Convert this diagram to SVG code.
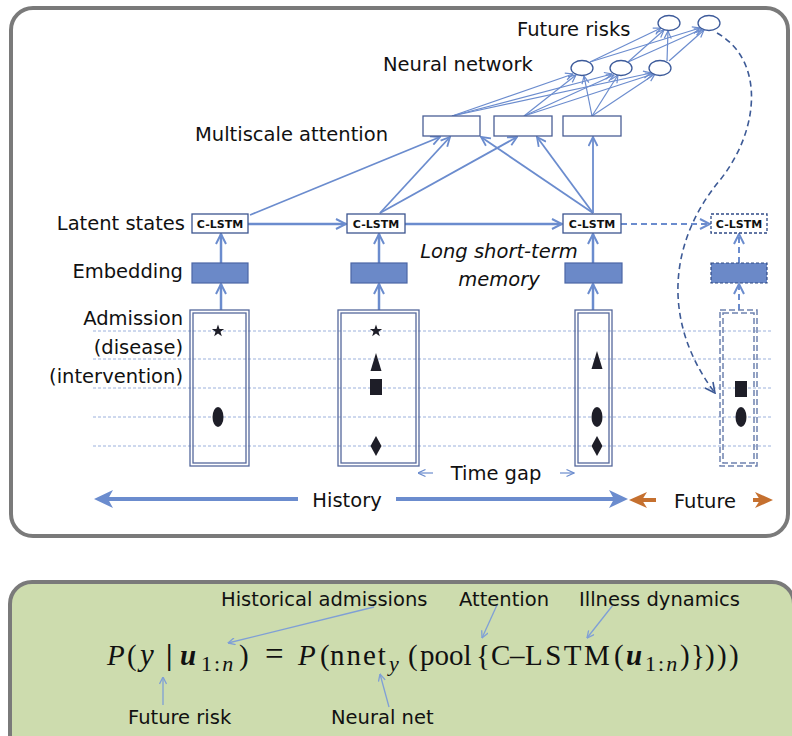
<svg xmlns="http://www.w3.org/2000/svg" xmlns:xlink="http://www.w3.org/1999/xlink" width="792" height="736" viewBox="0 0 792 736">
<style>
.lbl{font-family:"DejaVu Sans","Liberation Sans",sans-serif;font-size:19.5px;fill:#111}
.it{font-style:italic}
.cl{font-family:"DejaVu Sans","Liberation Sans",sans-serif;font-size:11px;font-weight:bold;fill:#111;text-anchor:middle}
.fm{font-family:"Liberation Serif","DejaVu Serif",serif;font-size:29px;fill:#111}
.sub{font-size:22px;letter-spacing:2px}
.frame{fill:#fff;stroke:#7a7a7a;stroke-width:4}
.gbox{fill:#cddcae;stroke:#7a7a7a;stroke-width:4}
.grid{stroke:#9cb1dc;stroke-width:1;stroke-dasharray:3 2}
.adm{fill:none;stroke:#55689c;stroke-width:1.3}
.admd{fill:none;stroke:#6f82b0;stroke-width:1.5;stroke-dasharray:6 3}
.emb{fill:#6b89c8;stroke:#4b66a6;stroke-width:1.2}
.embd{fill:#6b89c8;stroke:#2f4a86;stroke-width:1.2;stroke-dasharray:3 2}
.cbox{fill:#fff;stroke:#3c5590;stroke-width:1.3}
.cboxd{fill:#fff;stroke:#2f4a86;stroke-width:1.3;stroke-dasharray:3 2}
.att{fill:#fff;stroke:#4a5f96;stroke-width:1.3}
.ov{fill:#fff;stroke:#3c5a9a;stroke-width:1.3}
.sym{fill:#1e1e28}
.thk{stroke:#6b8cce;stroke-width:2.5;fill:none}
.thkd{stroke:#6b8cce;stroke-width:2;fill:none;stroke-dasharray:6 4}
.med{stroke:#6b8cce;stroke-width:1.8;fill:none}
.thn{stroke:#6b8cce;stroke-width:1.2;fill:none}
.curve{stroke:#3d5a96;stroke-width:1.6;fill:none;stroke-dasharray:6 4}
.hist{stroke:#6b8cce;stroke-width:4;fill:none}
.fut{stroke:#c5702f;stroke-width:4;fill:none}
.lead{stroke:#7f9fd6;stroke-width:1.3;fill:none}
</style>
<defs>
<marker id="ah" viewBox="0 0 12 12" refX="11" refY="6" markerWidth="12" markerHeight="12" markerUnits="userSpaceOnUse" orient="auto"><path d="M1,1 L11,6 L1,11" fill="none" stroke="#6b8cce" stroke-width="2"/></marker>
<marker id="am" viewBox="0 0 11 11" refX="10" refY="5.5" markerWidth="11" markerHeight="11" markerUnits="userSpaceOnUse" orient="auto"><path d="M1,1 L10,5.5 L1,10" fill="none" stroke="#6b8cce" stroke-width="1.8"/></marker>
<marker id="as" viewBox="0 0 9 9" refX="8.5" refY="4.5" markerWidth="9" markerHeight="9" markerUnits="userSpaceOnUse" orient="auto"><path d="M1,1 L8.5,4.5 L1,8" fill="none" stroke="#6b8cce" stroke-width="1.2"/></marker>
<marker id="ad" viewBox="0 0 12 12" refX="11" refY="6" markerWidth="12" markerHeight="12" markerUnits="userSpaceOnUse" orient="auto"><path d="M1,1 L11,6 L1,11" fill="none" stroke="#3d5a96" stroke-width="1.6"/></marker>
<marker id="al" viewBox="0 0 8 8" refX="7.5" refY="4" markerWidth="8" markerHeight="8" markerUnits="userSpaceOnUse" orient="auto"><path d="M0.5,0.5 L7.5,4 L0.5,7.5" fill="none" stroke="#7f9fd6" stroke-width="1.3"/></marker>
<marker id="sb" viewBox="0 0 19 18" refX="11" refY="9" markerWidth="19" markerHeight="18" markerUnits="userSpaceOnUse" orient="auto"><path d="M0,0 L19,9 L0,18 L5,9 z" fill="#6b8cce"/></marker>
<marker id="so" viewBox="0 0 18 16" refX="10" refY="8" markerWidth="18" markerHeight="16" markerUnits="userSpaceOnUse" orient="auto"><path d="M0,0 L18,8 L0,16 L5,8 z" fill="#c5702f"/></marker>
<path id="star" d="M0,-6.5 L1.53,-2.1 L6.18,-2.01 L2.47,0.8 L3.82,5.26 L0,2.6 L-3.82,5.26 L-2.47,0.8 L-6.18,-2.01 L-1.53,-2.1 z"/>
<path id="tri" d="M0,-9 L5.5,9 L-5.5,9 z"/>
<path id="dia" d="M0,-10 L5.5,0 L0,10 L-5.5,0 z"/>
<rect id="sq" x="-6" y="-8" width="12" height="16"/>
<ellipse id="el" cx="0" cy="0" rx="5.5" ry="10"/>
</defs>

<rect class="frame" x="11" y="8" width="777" height="528" rx="22"/>
<rect class="gbox" x="10" y="582" width="784" height="180" rx="22"/>

<g id="grid">
<line class="grid" x1="93" y1="331" x2="773" y2="331"/>
<line class="grid" x1="93" y1="359" x2="773" y2="359"/>
<line class="grid" x1="93" y1="388" x2="773" y2="388"/>
<line class="grid" x1="93" y1="417" x2="773" y2="417"/>
<line class="grid" x1="93" y1="446" x2="773" y2="446"/>
</g>

<g id="labels">
<text class="lbl" x="517" y="36">Future risks</text>
<text class="lbl" x="383" y="71">Neural network</text>
<text class="lbl" x="195" y="141">Multiscale attention</text>
<text class="lbl" x="185" y="230" text-anchor="end">Latent states</text>
<text class="lbl" x="183" y="278" text-anchor="end">Embedding</text>
<text class="lbl" x="183" y="325" text-anchor="end">Admission</text>
<text class="lbl" x="183" y="354" text-anchor="end">(disease)</text>
<text class="lbl" x="183" y="383" text-anchor="end">(intervention)</text>
<text class="lbl it" x="499" y="258" text-anchor="middle">Long short-term</text>
<text class="lbl it" x="499" y="286" text-anchor="middle">memory</text>
<text class="lbl" x="496" y="480" text-anchor="middle">Time gap</text>
<text class="lbl" x="347" y="507" text-anchor="middle">History</text>
<text class="lbl" x="705" y="508" text-anchor="middle">Future</text>
</g>

<g id="connectors">
<line class="thn" x1="452" y1="116" x2="573" y2="74" marker-end="url(#as)"/>
<line class="thn" x1="452" y1="116" x2="612" y2="74" marker-end="url(#as)"/>
<line class="thn" x1="452" y1="116" x2="651" y2="73" marker-end="url(#as)"/>
<line class="thn" x1="524" y1="116" x2="576" y2="75" marker-end="url(#as)"/>
<line class="thn" x1="524" y1="116" x2="614" y2="75" marker-end="url(#as)"/>
<line class="thn" x1="524" y1="116" x2="653" y2="74" marker-end="url(#as)"/>
<line class="thn" x1="592" y1="116" x2="584" y2="76" marker-end="url(#as)"/>
<line class="thn" x1="592" y1="116" x2="618" y2="75" marker-end="url(#as)"/>
<line class="thn" x1="592" y1="116" x2="655" y2="74" marker-end="url(#as)"/>
<line class="thn" x1="590" y1="62" x2="661" y2="28" marker-end="url(#as)"/>
<line class="thn" x1="590" y1="62" x2="700" y2="28" marker-end="url(#as)"/>
<line class="thn" x1="628" y1="62" x2="664" y2="30" marker-end="url(#as)"/>
<line class="thn" x1="628" y1="62" x2="702" y2="29" marker-end="url(#as)"/>
<line class="thn" x1="667" y1="61" x2="668" y2="31" marker-end="url(#as)"/>
<line class="thn" x1="669" y1="61" x2="704" y2="30" marker-end="url(#as)"/>
<line class="med" x1="250" y1="215" x2="440" y2="137" marker-end="url(#am)"/>
<line class="med" x1="380" y1="213" x2="450" y2="137" marker-end="url(#am)"/>
<line class="med" x1="380" y1="213" x2="517" y2="137" marker-end="url(#am)"/>
<line class="med" x1="593" y1="213" x2="481" y2="137" marker-end="url(#am)"/>
<line class="med" x1="593" y1="213" x2="537" y2="137" marker-end="url(#am)"/>
<line class="med" x1="593" y1="213" x2="593" y2="137" marker-end="url(#am)"/>
<line class="thk" x1="248" y1="224" x2="346" y2="224" marker-end="url(#ah)"/>
<line class="thk" x1="405" y1="224" x2="562" y2="224" marker-end="url(#ah)"/>
<line class="thkd" x1="621" y1="224" x2="710" y2="224" marker-end="url(#ah)"/>
<line class="thk" x1="221" y1="263" x2="221" y2="234" marker-end="url(#ah)"/>
<line class="thk" x1="379" y1="263" x2="379" y2="234" marker-end="url(#ah)"/>
<line class="thk" x1="593" y1="263" x2="593" y2="234" marker-end="url(#ah)"/>
<line class="thkd" x1="739" y1="263" x2="739" y2="234" marker-end="url(#ah)"/>
<line class="thk" x1="221" y1="310" x2="221" y2="284" marker-end="url(#ah)"/>
<line class="thk" x1="379" y1="310" x2="379" y2="284" marker-end="url(#ah)"/>
<line class="thk" x1="593" y1="310" x2="593" y2="284" marker-end="url(#ah)"/>
<line class="thkd" x1="739" y1="310" x2="739" y2="284" marker-end="url(#ah)"/>
<path class="curve" d="M717,33 C765,60 760,130 720,180 C670,240 660,320 715,393" marker-end="url(#ad)"/>
<line class="thn" x1="433" y1="473" x2="418" y2="473" stroke-width="1.6" marker-end="url(#as)"/>
<line class="thn" x1="560" y1="473" x2="574" y2="473" stroke-width="1.6" marker-end="url(#as)"/>
<line class="hist" x1="298" y1="499" x2="102" y2="499" marker-end="url(#sb)"/>
<line class="hist" x1="396" y1="499" x2="620" y2="499" marker-end="url(#sb)"/>
<line class="fut" x1="656" y1="500" x2="637" y2="500" marker-end="url(#so)"/>
<line class="fut" x1="753" y1="500" x2="765" y2="500" marker-end="url(#so)"/>
<line class="lead" x1="374" y1="607" x2="228" y2="643" marker-end="url(#al)"/>
<line class="lead" x1="497" y1="605" x2="482" y2="638" marker-end="url(#al)"/>
<line class="lead" x1="613" y1="605" x2="587" y2="638" marker-end="url(#al)"/>
<line class="lead" x1="163" y1="705" x2="163" y2="677" marker-end="url(#al)"/>
<line class="lead" x1="389" y1="707" x2="380" y2="674" marker-end="url(#al)"/>
</g>

<g id="future-risks">
<ellipse class="ov" cx="669" cy="23" rx="11" ry="7.5"/>
<ellipse class="ov" cx="709" cy="23" rx="11" ry="7.5"/>
</g>
<g id="neural-network">
<ellipse class="ov" cx="582" cy="68" rx="11" ry="7.5"/>
<ellipse class="ov" cx="621" cy="68" rx="11" ry="7.5"/>
<ellipse class="ov" cx="660" cy="68" rx="11" ry="7.5"/>
</g>
<g id="attention">
<rect class="att" x="423" y="116" width="57" height="20"/>
<rect class="att" x="494" y="116" width="58" height="20"/>
<rect class="att" x="563" y="116" width="58" height="20"/>
</g>

<g id="clstm1"><rect class="cbox" x="192" y="214" width="56" height="19"/><text class="cl" x="220" y="228">C-LSTM</text></g>
<g id="clstm2"><rect class="cbox" x="347" y="214" width="58" height="19"/><text class="cl" x="376" y="228">C-LSTM</text></g>
<g id="clstm3"><rect class="cbox" x="563" y="214" width="58" height="19"/><text class="cl" x="592" y="228">C-LSTM</text></g>
<g id="clstm4"><rect class="cboxd" x="711" y="214" width="56" height="19"/><text class="cl" x="739" y="228">C-LSTM</text></g>

<g id="emb1"><rect class="emb" x="192" y="263" width="56" height="20"/></g>
<g id="emb2"><rect class="emb" x="351" y="263" width="56" height="20"/></g>
<g id="emb3"><rect class="emb" x="565" y="263" width="57" height="20"/></g>
<g id="emb4"><rect class="embd" x="711" y="263" width="56" height="20"/></g>

<g id="adm1">
<rect class="adm" x="190" y="310" width="59" height="156"/><rect class="adm" x="193" y="313" width="53" height="150"/>
<use href="#star" x="218" y="331" class="sym"/>
<use href="#el" x="218" y="417" class="sym"/>
</g>
<g id="adm2">
<rect class="adm" x="338" y="310" width="81" height="156"/><rect class="adm" x="341" y="313" width="75" height="150"/>
<use href="#star" x="376" y="331" class="sym"/>
<use href="#tri" x="376" y="362" class="sym"/>
<use href="#sq" x="376" y="387" class="sym"/>
<use href="#dia" x="376" y="446" class="sym"/>
</g>
<g id="adm3">
<rect class="adm" x="575" y="310" width="37" height="156"/><rect class="adm" x="578" y="313" width="31" height="150"/>
<use href="#tri" x="597" y="360" class="sym"/>
<use href="#el" x="597" y="417" class="sym"/>
<use href="#dia" x="597" y="446" class="sym"/>
</g>
<g id="adm4">
<rect class="admd" x="720" y="310" width="37" height="156"/><rect class="admd" x="723" y="313" width="31" height="150"/>
<use href="#sq" x="741" y="389" class="sym"/>
<use href="#el" x="741" y="417" class="sym"/>
</g>

<g id="formula">
<text class="lbl" x="221" y="606">Historical admissions</text>
<text class="lbl" x="459" y="606">Attention</text>
<text class="lbl" x="579" y="606">Illness dynamics</text>
<text class="lbl" x="128" y="724">Future risk</text>
<text class="lbl" x="331" y="724">Neural net</text>
<text class="fm" y="665"><tspan x="107" font-style="italic">P</tspan><tspan x="127">(</tspan><tspan x="140" font-style="italic" font-size="31">y</tspan><tspan x="166" font-weight="bold">|</tspan><tspan x="180" font-style="italic" font-weight="bold">u</tspan><tspan x="201" y="671" class="sub">1:<tspan font-style="italic">n</tspan></tspan><tspan x="239" y="665">)</tspan><tspan x="265" font-size="33">=</tspan><tspan x="298" font-style="italic">P</tspan><tspan x="320">(</tspan><tspan x="330" letter-spacing="2">nnet</tspan><tspan x="389" y="671" class="sub" font-style="italic">y</tspan><tspan x="408" y="665">(</tspan><tspan x="420">pool</tspan><tspan x="476">{</tspan><tspan x="491">C</tspan><tspan x="510">–</tspan><tspan x="525" letter-spacing="2.5">LSTM</tspan><tspan x="614">(</tspan><tspan x="626" font-style="italic" font-weight="bold">u</tspan><tspan x="645" y="671" class="sub">1:<tspan font-style="italic">n</tspan></tspan><tspan x="680" y="665">)</tspan><tspan x="691">}</tspan><tspan x="705">)</tspan><tspan x="717">)</tspan><tspan x="729">)</tspan></text>
</g>
</svg>
